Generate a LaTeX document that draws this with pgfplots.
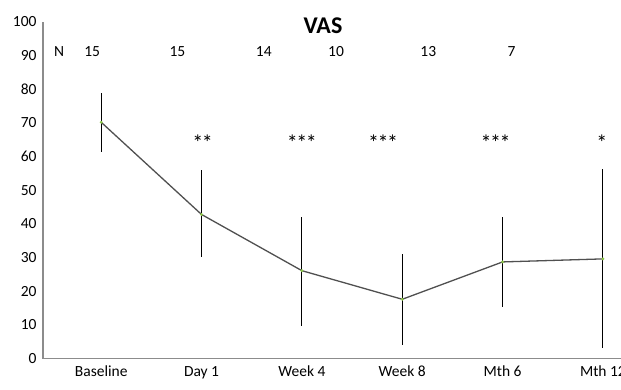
\documentclass[border=0pt]{standalone}
\usepackage{pgfplots}
\pgfplotsset{compat=1.18}
\usepackage{fontspec}
\setmainfont{Carlito}
\definecolor{axgray}{HTML}{8C8C8C}
\definecolor{linegray}{HTML}{505050}
\definecolor{mkgreen}{HTML}{8BC34A}
\begin{document}
\begin{tikzpicture}
\useasboundingbox (0,0) rectangle (621pt,389pt);
\clip (0,0) rectangle (621pt,389pt);
\begin{axis}[
  at={(43pt,30.5pt)}, anchor=south west,
  scale only axis, width=578pt, height=336.5pt,
  xmin=-0.58, xmax=5.18, ymin=0, ymax=100,
  axis x line=bottom, axis y line=left,
  axis line style={axgray, line width=1.2pt, -},
  xtick={0,1,2,3,4,5},
  xticklabels={Baseline, Day 1, Week 4, Week 8, Mth 6, Mth 12},
  ytick={0,10,...,100},
  major tick length=0pt,
  tick label style={font=\fontsize{15.5}{17}\selectfont, black},
  /pgf/number format/assume math mode=true,
  xticklabel style={yshift=-4pt},
  yticklabel style={xshift=-3pt},
  clip=false,
]
\addplot[linegray, line width=1.3pt, mark=*, mark size=0.7pt,
  mark options={mkgreen, draw=mkgreen},
  error bars/.cd, y dir=both, y explicit, error mark=none,
  error bar style={black, line width=0.9pt}]
  table[x=x, y=y, y error plus=ep, y error minus=em] {
x y ep em
0 70.2 8.7 8.7
1 42.8 13.2 12.5
2 26.1 16.0 16.4
3 17.6 13.5 13.6
4 28.7 13.4 13.3
5 29.6 26.6 26.6
};
\node[font=\fontsize{24}{26}\bfseries] at (axis cs:2.21,99) {VAS};
\begin{scope}[every node/.style={font=\fontsize{15.5}{17}\selectfont}]
\node at (axis cs:-0.42,91.1) {N};
\node at (axis cs:-0.09,91.1) {15};
\node at (axis cs:0.76,91.1) {15};
\node at (axis cs:1.62,91.1) {14};
\node at (axis cs:2.34,91.1) {10};
\node at (axis cs:3.26,91.1) {13};
\node at (axis cs:4.09,91.1) {7};
\end{scope}
\begin{scope}[every node/.style={font=\fontsize{22}{24}\selectfont, inner sep=0pt}]
\node at (axis cs:1.01,64.0) {*\kern-1.5pt*};
\node at (axis cs:2.00,64.0) {*\kern-1.5pt*\kern-1.5pt*};
\node at (axis cs:2.81,64.0) {*\kern-1.5pt*\kern-1.5pt*};
\node at (axis cs:3.93,64.0) {*\kern-1.5pt*\kern-1.5pt*};
\node at (axis cs:4.99,64.0) {*};
\end{scope}
\end{axis}
\end{tikzpicture}
\end{document}
